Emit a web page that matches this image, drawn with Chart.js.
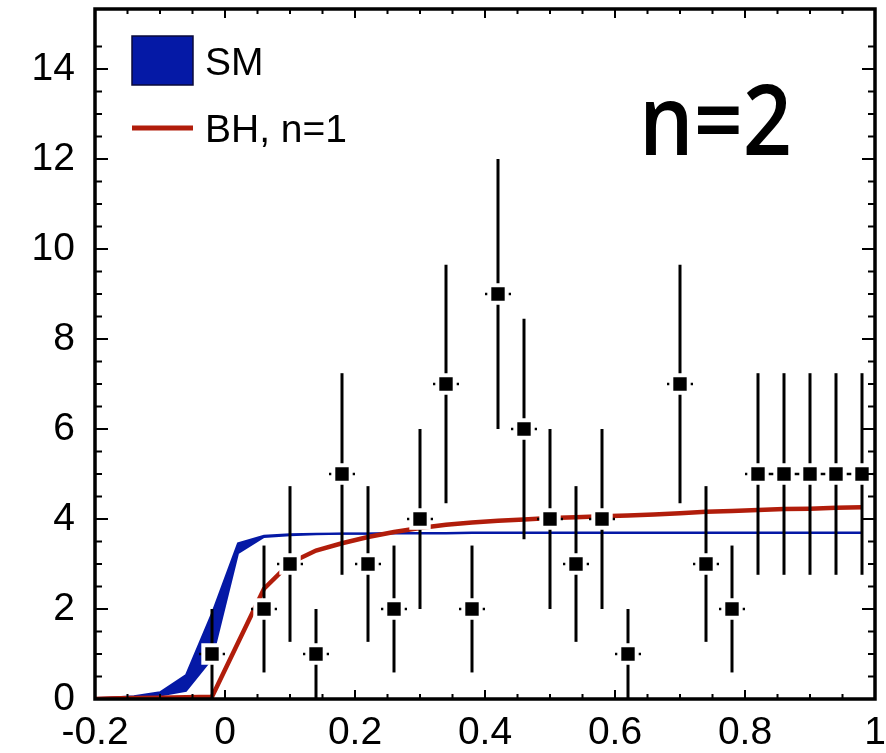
<!DOCTYPE html>
<html>
<head>
<meta charset="utf-8">
<script src="https://cdn.jsdelivr.net/npm/chart.js@4/dist/chart.umd.min.js"></script>
<style>
  html, body { margin: 0; padding: 0; background: #fff; }
  #c { display: block; }
</style>
</head>
<body>
<canvas id="c" width="886" height="753"></canvas>
<script>
// curves (SM band + BH prediction)
const curveX  = [-0.2, -0.18, -0.14, -0.10, -0.06, -0.02, 0.02, 0.06, 0.10, 0.14, 0.18, 0.22, 0.26, 0.30, 0.34, 0.38, 0.42, 0.46, 0.50, 0.54, 0.58, 0.62, 0.66, 0.70, 0.74, 0.78, 0.82, 0.86, 0.90, 0.94, 0.98];
const smUpper = [0.02, 0.03, 0.06, 0.15, 0.53, 1.90, 3.46, 3.63, 3.66, 3.67, 3.68, 3.68, 3.69, 3.69, 3.69, 3.70, 3.70, 3.70, 3.70, 3.70, 3.70, 3.70, 3.70, 3.70, 3.70, 3.70, 3.70, 3.70, 3.70, 3.70, 3.70];
const smLower = [0.00, 0.01, 0.02, 0.08, 0.18, 0.90, 3.24, 3.60, 3.64, 3.66, 3.67, 3.67, 3.68, 3.68, 3.68, 3.69, 3.69, 3.69, 3.69, 3.69, 3.69, 3.69, 3.69, 3.69, 3.69, 3.69, 3.69, 3.69, 3.69, 3.69, 3.69];
const bhCurve = [0.00, 0.01, 0.02, 0.03, 0.04, 0.05, 1.25, 2.45, 3.02, 3.30, 3.46, 3.60, 3.71, 3.80, 3.87, 3.92, 3.96, 3.99, 4.02, 4.04, 4.06, 4.08, 4.10, 4.13, 4.16, 4.18, 4.20, 4.22, 4.23, 4.25, 4.26];

// data points
const binX    = [-0.02, 0.06, 0.10, 0.14, 0.18, 0.22, 0.26, 0.30, 0.34, 0.38, 0.42, 0.46, 0.50, 0.54, 0.58, 0.62, 0.70, 0.74, 0.78, 0.82, 0.86, 0.90, 0.94, 0.98];
const counts  = [1, 2, 3, 1, 5, 3, 2, 4, 7, 2, 9, 6, 4, 3, 4, 1, 7, 3, 2, 5, 5, 5, 5, 5];
const errLow  = [0, 0.59, 1.27, 0, 2.76, 1.27, 0.59, 2.0, 4.35, 0.59, 6.0, 3.55, 2.0, 1.27, 2.0, 0, 4.35, 1.27, 0.59, 2.76, 2.76, 2.76, 2.76, 2.76];
const errHigh = [2, 3.41, 4.73, 2, 7.24, 4.73, 3.41, 6.0, 9.65, 3.41, 12.0, 8.45, 6.0, 4.73, 6.0, 2, 9.65, 4.73, 3.41, 7.24, 7.24, 7.24, 7.24, 7.24];
const binHalf = 0.02;

// tick labels
const xTickLabels = ['-0.2', '0', '0.2', '0.4', '0.6', '0.8', '1'];
const yTickLabels = ['0', '2', '4', '6', '8', '10', '12', '14'];

const BLUE = '#0519a6';
const RED = '#b11d0b';
const FONT = '"Liberation Sans", Arial, sans-serif';

const pts = (xs, ys) => xs.map((x, i) => ({ x: x, y: ys[i] }));

function isMult(v, step) {
    const r = v / step;
    return Math.abs(r - Math.round(r)) < 1e-6;
}

function noPad(s) {
    s.paddingTop = 0;
    s.paddingBottom = 0;
    s.paddingLeft = 0;
    s.paddingRight = 0;
}

const framePlugin = {
    id: 'frame',
    beforeDatasetDraw(chart, args) {
        if (args.index !== 0) return;
        const { ctx, scales: { x, y } } = chart;
        ctx.save();
        ctx.strokeStyle = '#000';
        binX.forEach((bx, i) => {
            const px = x.getPixelForValue(bx);
            const py = y.getPixelForValue(counts[i]);
            ctx.lineWidth = 3;
            ctx.beginPath();
            ctx.moveTo(px, y.getPixelForValue(errHigh[i]));
            ctx.lineTo(px, y.getPixelForValue(errLow[i]));
            ctx.stroke();
            ctx.lineWidth = 2.5;
            ctx.beginPath();
            ctx.moveTo(x.getPixelForValue(bx - binHalf), py);
            ctx.lineTo(x.getPixelForValue(bx + binHalf), py);
            ctx.stroke();
        });
        ctx.restore();
    },
    afterDraw(chart) {
        const { ctx, chartArea: a, scales: { x, y } } = chart;
        ctx.save();
        // tick marks, pointing inward on all four sides
        ctx.strokeStyle = '#000';
        ctx.lineWidth = 2;
        y.ticks.forEach(t => {
            if (!isMult(t.value, 0.5)) return;
            const py = y.getPixelForValue(t.value);
            const len = isMult(t.value, 2) ? 13 : 7;
            ctx.beginPath();
            ctx.moveTo(a.left, py); ctx.lineTo(a.left + len, py);
            ctx.moveTo(a.right, py); ctx.lineTo(a.right - len, py);
            ctx.stroke();
        });
        x.ticks.forEach(t => {
            if (!isMult(t.value, 0.05)) return;
            const px = x.getPixelForValue(t.value);
            const len = isMult(t.value, 0.2) ? 9 : 5;
            ctx.beginPath();
            ctx.moveTo(px, a.bottom); ctx.lineTo(px, a.bottom - len);
            ctx.moveTo(px, a.top); ctx.lineTo(px, a.top + len);
            ctx.stroke();
        });
        // frame
        ctx.lineWidth = 3.5;
        ctx.strokeRect(a.left, a.top, a.right - a.left, a.bottom - a.top);

        // legend
        const ds = chart.data.datasets;
        ctx.fillStyle = BLUE;
        ctx.fillRect(132, 36, 61, 49);
        ctx.strokeStyle = '#0a0a3a';
        ctx.lineWidth = 1.5;
        ctx.strokeRect(132, 36, 61, 49);
        ctx.strokeStyle = RED;
        ctx.lineWidth = 5;
        ctx.beginPath();
        ctx.moveTo(132, 128); ctx.lineTo(193, 128);
        ctx.stroke();
        ctx.fillStyle = '#000';
        ctx.font = '39px ' + FONT;
        ctx.textAlign = 'left';
        ctx.textBaseline = 'alphabetic';
        ctx.fillText(ds[2].label, 205, 75);
        ctx.fillText(ds[1].label, 205, 142);

        // n=2 tag
        ctx.font = '600 98px "Open Sans", sans-serif';
        const txt = 'n=2';
        const w = ctx.measureText(txt).width;
        ctx.translate(639, 155);
        ctx.scale(153 / w, 1);
        ctx.fillText(txt, 0, 0);
        ctx.restore();
    }
};

new Chart(document.getElementById('c'), {
    type: 'scatter',
    data: {
        datasets: [
            {
                label: 'Data',
                data: pts(binX, counts),
                pointStyle: 'rect',
                pointRadius: 12.3,
                backgroundColor: '#000',
                borderColor: '#fff',
                borderWidth: 4,
                showLine: false
            },
            {
                label: 'BH, n=1',
                data: pts(curveX, bhCurve),
                showLine: true,
                borderColor: RED,
                borderWidth: 4.5,
                pointRadius: 0,
                fill: false
            },
            {
                label: 'SM',
                data: pts(curveX, smUpper),
                showLine: true,
                borderColor: BLUE,
                backgroundColor: BLUE,
                borderWidth: 2,
                pointRadius: 0,
                fill: '+1'
            },
            {
                label: 'SM lower',
                data: pts(curveX, smLower),
                showLine: true,
                borderColor: BLUE,
                borderWidth: 2,
                pointRadius: 0,
                fill: false
            }
        ]
    },
    options: {
        responsive: false,
        animation: false,
        devicePixelRatio: 1,
        layout: { autoPadding: false, padding: { left: 0, right: 11, top: 9, bottom: 0 } },
        plugins: { legend: { display: false }, tooltip: { enabled: false } },
        scales: {
            x: {
                type: 'linear',
                min: -0.2,
                max: 1.0,
                border: { display: false },
                grid: { display: false, drawTicks: false },
                afterFit: s => { s.height = 54; noPad(s); },
                ticks: {
                    stepSize: 0.05,
                    autoSkip: false,
                    maxRotation: 0,
                    padding: 11,
                    color: '#000',
                    font: { family: FONT, size: 39 },
                    callback: v => isMult(v, 0.2) ? xTickLabels[Math.round((v + 0.2) / 0.2)] : ''
                }
            },
            y: {
                type: 'linear',
                min: 0,
                max: 15.333,
                border: { display: false },
                grid: { display: false, drawTicks: false },
                afterFit: s => { s.width = 95; noPad(s); },
                ticks: {
                    stepSize: 0.5,
                    autoSkip: false,
                    padding: 20,
                    color: '#000',
                    font: { family: FONT, size: 39 },
                    callback: v => (isMult(v, 2) && v <= 14.001) ? yTickLabels[Math.round(v / 2)] : ''
                }
            }
        }
    },
    plugins: [framePlugin]
});
</script>
</body>
</html>
